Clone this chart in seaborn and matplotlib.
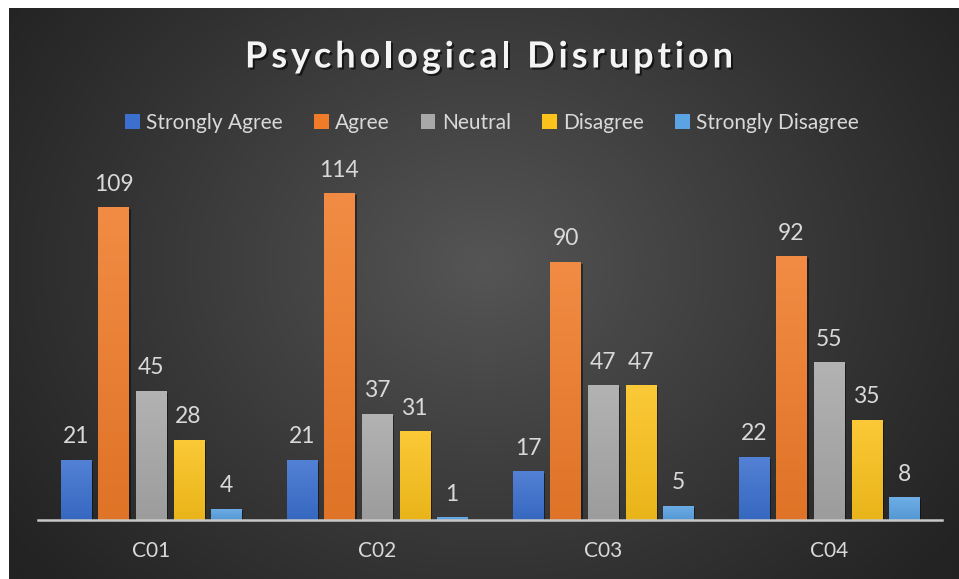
import numpy as np
import pandas as pd
import seaborn as sns
import matplotlib.pyplot as plt
from matplotlib import patheffects as pe
from matplotlib.patches import Patch
from matplotlib.colors import LinearSegmentedColormap, to_rgb

# ---- data -------------------------------------------------------------
categories = ["C01", "C02", "C03", "C04"]
responses = ["Strongly Agree", "Agree", "Neutral", "Disagree", "Strongly Disagree"]
strongly_agree = [21, 21, 17, 22]
agree = [109, 114, 90, 92]
neutral = [45, 37, 47, 55]
disagree = [28, 31, 47, 35]
strongly_disagree = [4, 1, 5, 8]

colors = ["#3b70cf", "#f07c2a", "#a8a8a8", "#fbc21c", "#5ba3e3"]
text_col = "#d9d9d9"
font = "Lato"

series = [strongly_agree, agree, neutral, disagree, strongly_disagree]
df = pd.DataFrame(
    [(c, r, v) for r, vals in zip(responses, series) for c, v in zip(categories, vals)],
    columns=["category", "response", "value"],
)

# ---- figure & background ---------------------------------------------
W, H = 959, 579
sns.set_theme(style="dark")
plt.rcParams["font.family"] = [font, "DejaVu Sans"]

fig = plt.figure(figsize=(W / 100, H / 100), dpi=100, facecolor="white")

bg = fig.add_axes([9 / W, 0, (W - 9) / W, (H - 8) / H])
bg.set_axis_off()
yy, xx = np.mgrid[0:1:300j, 0:1:500j]
r = np.sqrt(((xx - 0.5) / 0.62) ** 2 + ((yy - 0.45) / 0.85) ** 2)
t = np.clip(1 - r, 0, 1) ** 1.1
edge = np.array(to_rgb("#232323"))
center = np.array(to_rgb("#555555"))
img = edge + (center - edge) * t[..., None]
bg.imshow(img, aspect="auto", extent=[0, 1, 0, 1], interpolation="bicubic")
bg.set_xlim(0, 1)
bg.set_ylim(0, 1)

# ---- bars -------------------------------------------------------------
ax = fig.add_axes([38 / W, 59 / H, 904 / W, 370 / H])
ax.set_facecolor("none")
sns.barplot(
    data=df, x="category", y="value", hue="response",
    order=categories, hue_order=responses, palette=colors,
    width=0.83, gap=0.2, saturation=1, legend=False, ax=ax,
    edgecolor="none", linewidth=0,
)

# subtle vertical shading on each bar
for cont, col in zip(ax.containers, colors):
    base = np.array(to_rgb(col))
    light = np.clip(base + (1 - base) * 0.12, 0, 1)
    dark = base * 0.93
    cmap = LinearSegmentedColormap.from_list("shade", [dark, light])
    grad = np.linspace(0, 1, 64).reshape(-1, 1)
    for p in cont.patches:
        p.set_path_effects([pe.SimplePatchShadow(offset=(1.5, -1.5), alpha=0.45, shadow_rgbFace="black"), pe.Normal()])
        x0, y0 = p.get_x(), p.get_y()
        im = ax.imshow(grad, cmap=cmap, origin="lower", aspect="auto",
                       extent=[x0, x0 + p.get_width(), y0, y0 + p.get_height()], zorder=p.get_zorder() + 0.1)
        im.set_clip_path(p)
    ax.bar_label(cont, padding=9, color=text_col, fontsize=16.5, family=font)
ax.set_xlim(-0.5, 3.5)
ax.set_ylim(0, 129)

for s in ["top", "left", "right"]:
    ax.spines[s].set_visible(False)
ax.spines["bottom"].set_color("#c8c8c8")
ax.spines["bottom"].set_linewidth(1.8)
ax.spines["bottom"].set_zorder(5)
ax.set_yticks([])
ax.tick_params(axis="x", length=0, pad=15, labelsize=15, labelcolor=text_col)
ax.set_xlabel("")
ax.set_ylabel("")
ax.grid(False)

# ---- legend -----------------------------------------------------------
handles = [Patch(facecolor=c, edgecolor="none") for c in colors]
fig.legend(
    handles, responses, loc="center", bbox_to_anchor=(492 / W, 1 - 123 / H),
    ncol=5, frameon=False, fontsize=15, labelcolor=text_col,
    handlelength=0.7, handleheight=0.7, handletextpad=0.3, columnspacing=1.5,
)

# ---- title with letter spacing ---------------------------------------
title = "Psychological Disruption"
tkw = dict(fontsize=26, fontweight="bold", family=font, color="#f4f4f4")
renderer = fig.canvas.get_renderer()


def text_width(s):
    tt = fig.text(0, 0, s, **tkw)
    w = tt.get_window_extent(renderer).width
    tt.remove()
    return w


ref = text_width("l")
offsets = [0.0] + [text_width(title[:i] + "l") - ref for i in range(1, len(title))]
natural = text_width(title)
target = 488
spacing = (target - natural) / (len(title) - 1)
x_start = 489 - target / 2
y_title = 1 - 57 / H
for i, ch in enumerate(title):
    if ch == " ":
        continue
    fig.text((x_start + offsets[i] + i * spacing) / W, y_title, ch, ha="left", va="center",
             path_effects=[pe.withSimplePatchShadow(offset=(1.5, -1.5), alpha=0.6, shadow_rgbFace="black")],
             **tkw)

fig.savefig("out.png", dpi=100, facecolor="white")
